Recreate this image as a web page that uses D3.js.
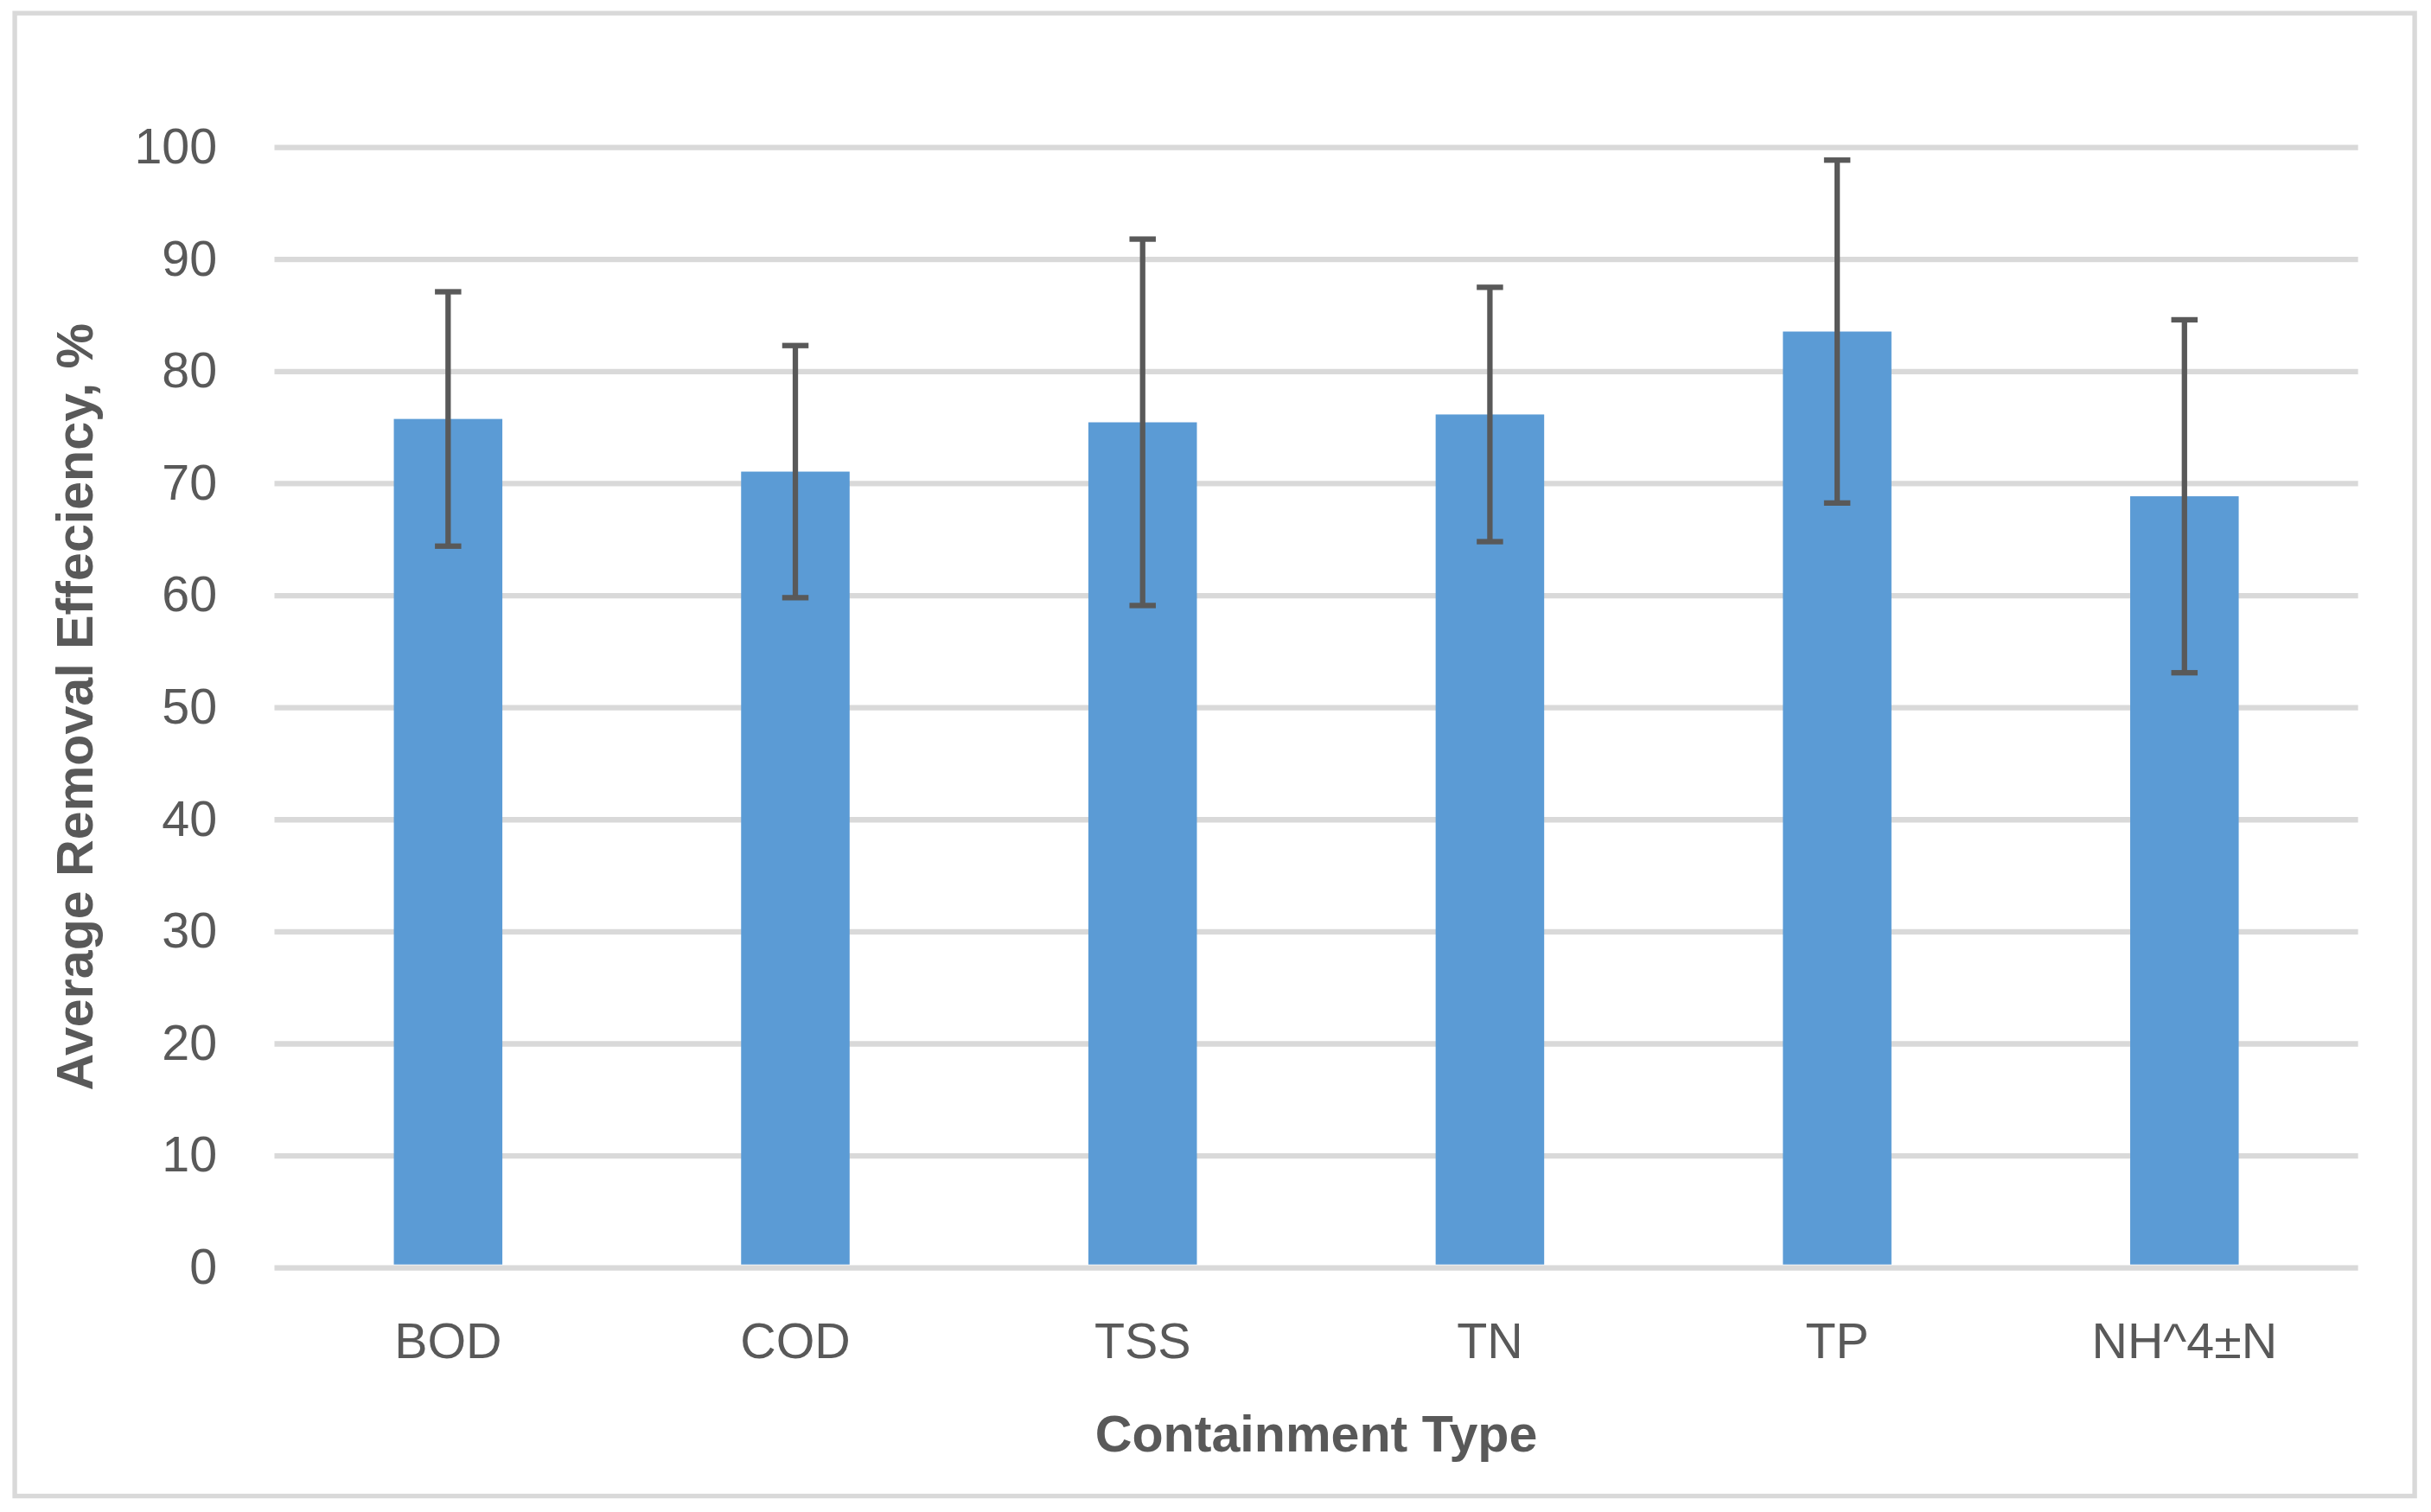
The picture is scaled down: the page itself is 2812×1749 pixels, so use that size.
<!DOCTYPE html>
<html>
<head>
<meta charset="utf-8">
<script src="https://cdn.jsdelivr.net/npm/d3@7"></script>
<style>
  body { margin: 0; background: #fff; }
  text { font-family: "Liberation Sans", Arial, sans-serif; fill: #595959; }
</style>
</head>
<body>
<svg id="chart"></svg>
<script>
// data
const categories = ['BOD', 'COD', 'TSS', 'TN', 'TP', 'NH^4\u00B1N'];
const means = [75.7, 71.0, 75.4, 76.1, 83.5, 68.8];
const errors = [11.35, 11.25, 16.35, 11.35, 15.3, 15.75];
const yTicks = [0, 10, 20, 30, 40, 50, 60, 70, 80, 90, 100];

// layout (drawn in a 1568-wide box, scaled up to the window)
const VW = 1568, VH = 975.3;
const plotL = 177, plotR = 1521, plotT = 94.6, plotB = 817.4;

const svg = d3.select('#chart')
  .attr('width', 2812)
  .attr('height', 1749)
  .attr('viewBox', `0 0 ${VW} ${VH}`);

svg.append('rect')
  .attr('width', VW).attr('height', VH)
  .attr('fill', '#fff');

// outer frame
svg.append('rect')
  .attr('x', 9.5).attr('y', 8.5)
  .attr('width', 1548).attr('height', 956.5)
  .attr('fill', 'none')
  .attr('stroke', '#d9d9d9')
  .attr('stroke-width', 3);

const x = d3.scaleBand()
  .domain(categories)
  .range([plotL, plotR])
  .paddingInner(0.6875)
  .paddingOuter(0.34375);

const y = d3.scaleLinear()
  .domain([0, 100])
  .range([plotB, plotT]);

// gridlines
const grid = svg.append('g')
  .attr('transform', `translate(${plotL},0)`)
  .call(d3.axisLeft(y).tickValues(yTicks).tickSize(-(plotR - plotL)).tickFormat(''));
grid.select('.domain').remove();
grid.selectAll('line')
  .attr('stroke', '#d9d9d9')
  .attr('stroke-width', 3.5);

// y labels
const yAxis = svg.append('g')
  .attr('transform', `translate(${plotL},0)`)
  .call(d3.axisLeft(y).tickValues(yTicks).tickSize(0).tickPadding(37));
yAxis.select('.domain').remove();
yAxis.selectAll('text')
  .attr('fill', '#595959')
  .style('font-size', '32px')
  .style('font-family', '"Liberation Sans", Arial, sans-serif');

// bars
svg.append('g')
  .selectAll('rect')
  .data(categories)
  .join('rect')
  .attr('x', d => x(d))
  .attr('width', x.bandwidth())
  .attr('y', (d, i) => y(means[i]))
  .attr('height', (d, i) => y(0) - y(means[i]) - 1.75)
  .attr('fill', '#5b9bd5');

// error bars
const eb = svg.append('g')
  .attr('stroke', '#595959')
  .attr('stroke-width', 3.5);

categories.forEach((c, i) => {
  const cx = x(c) + x.bandwidth() / 2;
  const hi = y(means[i] + errors[i]);
  const lo = y(means[i] - errors[i]);
  eb.append('line').attr('x1', cx).attr('x2', cx).attr('y1', hi).attr('y2', lo);
  eb.append('line').attr('x1', cx - 8.5).attr('x2', cx + 8.5).attr('y1', hi).attr('y2', hi);
  eb.append('line').attr('x1', cx - 8.5).attr('x2', cx + 8.5).attr('y1', lo).attr('y2', lo);
});

// x labels
const xAxis = svg.append('g')
  .attr('transform', `translate(0,${plotB})`)
  .call(d3.axisBottom(x).tickSize(0).tickPadding(36));
xAxis.select('.domain').remove();
xAxis.selectAll('text')
  .attr('fill', '#595959')
  .style('font-size', '32px')
  .style('font-family', '"Liberation Sans", Arial, sans-serif');

// axis titles
svg.append('text')
  .attr('x', (plotL + plotR) / 2)
  .attr('y', 925)
  .attr('text-anchor', 'middle')
  .attr('dominant-baseline', 'central')
  .style('font-size', '33px')
  .style('font-weight', 'bold')
  .text('Containment Type');

svg.append('text')
  .attr('transform', `translate(48,${(plotT + plotB) / 2}) rotate(-90)`)
  .attr('text-anchor', 'middle')
  .attr('dominant-baseline', 'central')
  .style('font-size', '33px')
  .style('font-weight', 'bold')
  .text('Average Removal Effeciency, %');
</script>
</body>
</html>
